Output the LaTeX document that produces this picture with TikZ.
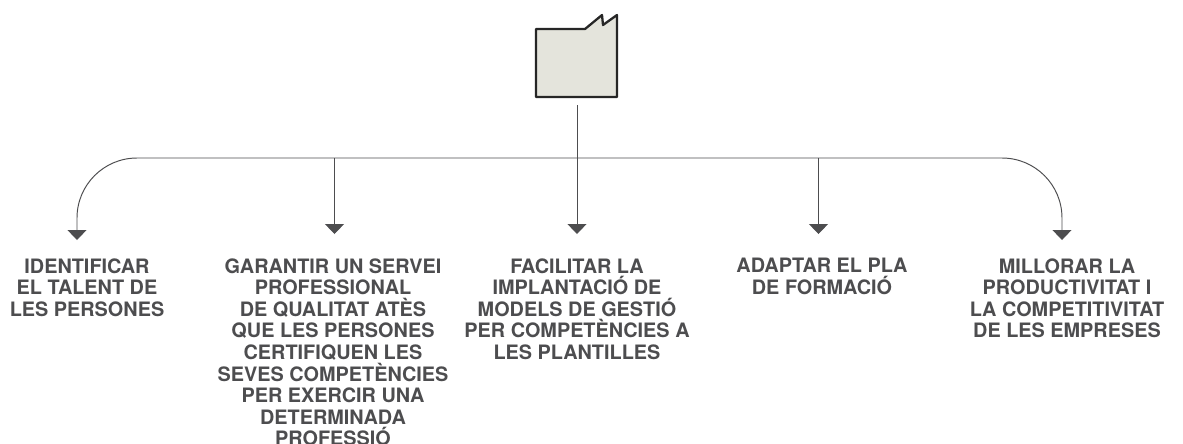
\documentclass[tikz,border=0pt]{standalone}
\usepackage{fontspec}
\setmainfont{TeX Gyre Heros}
\usetikzlibrary{arrows.meta}
\definecolor{inkgray}{HTML}{4D4D4F}
\definecolor{factorygray}{HTML}{E4E4DC}
\tikzset{
    flow/.style={draw=inkgray, line width=0.55pt, -{Triangle[width=3.8mm, length=2mm]}},
    goal/.style={anchor=north, align=center, text=inkgray, inner sep=0pt,
        font=\fontsize{11.3pt}{12.3pt}\selectfont\bfseries},
}
\begin{document}
\begin{tikzpicture}[x=0.2mm, y=-0.2mm]
                \useasboundingbox (0,0) rectangle (1183,443);

                % Factory
                \draw[fill=factorygray, draw=black!85, line width=1.3pt, line join=round]
                    (536,29) -- (585,29) -- (602,15) -- (603,25) -- (617,15) -- (617,97) -- (536,97) -- cycle;

                % Branch points
                \coordinate (stem) at (577,105);
                \coordinate (bar) at (577,158);
                \coordinate (tipA) at (77,240);
                \coordinate (tipB) at (334.5,234);
                \coordinate (tipC) at (577,234);
                \coordinate (tipD) at (818.5,234);
                \coordinate (tipE) at (1062,240);

                % Labels under the arrows
                \node[goal] (identify) at (87,258) {IDENTIFICAR\\EL TALENT DE\\LES PERSONES};
                \node[goal] (guarantee) at (333,258) {GARANTIR UN SERVEI\\PROFESSIONAL\\DE QUALITAT ATÈS\\QUE LES PERSONES\\CERTIFIQUEN LES\\SEVES COMPETÈNCIES\\PER EXERCIR UNA\\DETERMINADA\\PROFESSIÓ};
                \node[goal] (ease) at (577,258) {FACILITAR LA\\IMPLANTACIÓ DE\\MODELS DE GESTIÓ\\PER COMPETÈNCIES A\\LES PLANTILLES};
                \node[goal] (adapt) at (822,258) {ADAPTAR EL PLA\\DE FORMACIÓ};
                \node[goal] (improve) at (1067,258) {MILLORAR LA\\PRODUCTIVITAT I\\LA COMPETITIVITAT\\DE LES EMPRESES};

                % Arrows
                \draw[flow] (stem) -- (tipC);
                \draw[flow] (tipB |- bar) -- (tipB);
                \draw[flow] (tipD |- bar) -- (tipD);
                \draw[flow, rounded corners=12mm] (bar) -| (tipA);
                \draw[flow, rounded corners=12mm] (bar) -| (tipE);
            \end{tikzpicture}
\end{document}
